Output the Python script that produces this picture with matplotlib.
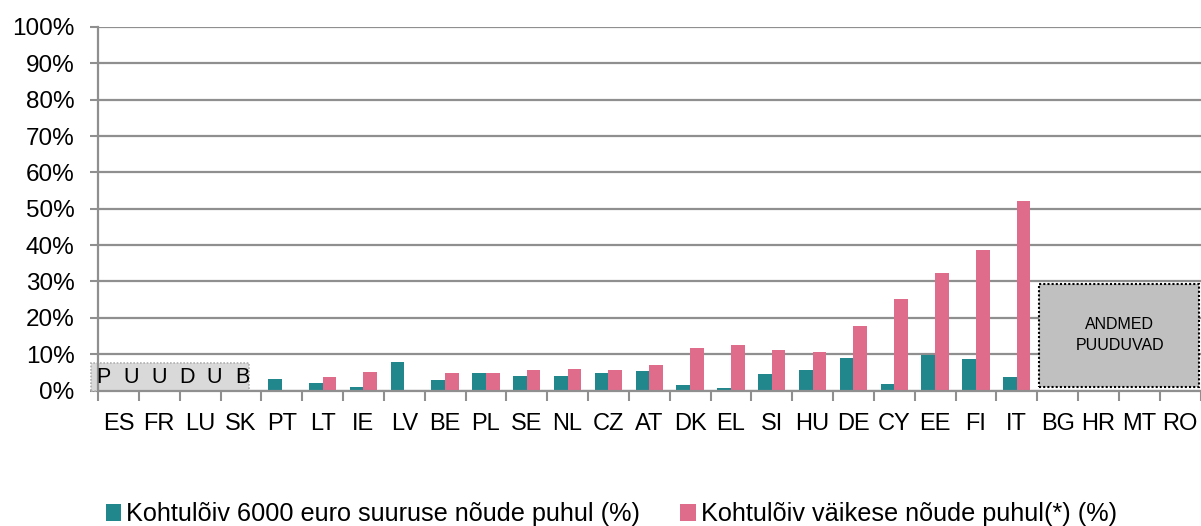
import numpy as np
import matplotlib.pyplot as plt
from matplotlib.patches import Rectangle

plt.rcParams['font.family'] = ['Liberation Sans', 'DejaVu Sans']

countries = ['ES', 'FR', 'LU', 'SK', 'PT', 'LT', 'IE', 'LV', 'BE', 'PL', 'SE', 'NL', 'CZ',
             'AT', 'DK', 'EL', 'SI', 'HU', 'DE', 'CY', 'EE', 'FI', 'IT', 'BG', 'HR', 'MT', 'RO']
# None = no data
claim_6000 = [None, None, None, None, 3.1, 2.1, 0.9, 7.9, 3.0, 4.8, 3.9, 3.9, 4.8,
              5.4, 1.4, 0.8, 4.5, 5.7, 8.9, 1.8, 9.8, 8.6, 3.7, None, None, None, None]
small_claim = [None, None, None, None, 0.0, 3.7, 5.0, 0.0, 4.9, 4.8, 5.6, 5.8, 5.6,
               7.0, 11.7, 12.6, 11.1, 10.6, 17.8, 25.3, 32.3, 38.6, 52.2, None, None, None, None]
label_6000 = 'Kohtulõiv 6000 euro suuruse nõude puhul (%)'
label_small = 'Kohtulõiv väikese nõude puhul(*) (%)'
no_data_short = 'PUUDUB'
no_data_long = 'ANDMED\nPUUDUVAD'

teal = '#21878c'
pink = '#e06c8c'
grid_c = '#8f8f8f'

n = len(countries)
fig = plt.figure(figsize=(12.01, 5.26), dpi=100)
ax = fig.add_axes([0.0816, 0.2576, 0.918, 0.6911])

x = np.arange(n) + 0.5
w = 0.335
v1 = np.array([np.nan if v is None else v for v in claim_6000])
v2 = np.array([np.nan if v is None else v for v in small_claim])
ax.bar(x - w / 2, v1, w, color=teal, label=label_6000, zorder=3)
ax.bar(x + w / 2, v2, w, color=pink, label=label_small, zorder=3)

ax.set_xlim(0, n)
ax.set_ylim(0, 100)
ax.set_yticks(np.arange(0, 101, 10))
ax.set_yticklabels([f'{t}%' for t in range(0, 101, 10)], fontsize=17.5)
ax.yaxis.grid(True, color=grid_c, linewidth=1.6, zorder=0)
ax.tick_params(axis='y', length=6, width=1.5, color=grid_c, pad=11)

ax.set_xticks(np.arange(0, n + 1))
ax.set_xticklabels([])
ax.set_xticks(x, minor=True)
ax.set_xticklabels(countries, minor=True, fontsize=17)
ax.tick_params(axis='x', which='major', length=7, width=1.5, color=grid_c, direction='out')
ax.tick_params(axis='x', which='minor', length=0, pad=16)

for s in ['top', 'right']:
    ax.spines[s].set_visible(False)
for s in ['left', 'bottom']:
    ax.spines[s].set_color(grid_c)
    ax.spines[s].set_linewidth(1.6)
ax.spines['bottom'].set_zorder(4)

# missing data boxes
ax.add_patch(Rectangle((-0.16, 0), 3.87, 7.7, facecolor='#d9d9d9', edgecolor='#b0b0b0',
                       linestyle=(0, (1, 1)), linewidth=1.2, zorder=2, clip_on=False))
for i, ch in enumerate(no_data_short):
    ax.text(0.13 + i * 0.68, 3.6, ch, ha='center', va='center', fontsize=15.5, zorder=5)
ax.add_patch(Rectangle((23.04, 1.1), 3.92, 28.2, facecolor='#c0c0c0', edgecolor='black',
                       linestyle=(0, (1, 1)), linewidth=1.5, zorder=2, clip_on=False))
ax.text(25.02, 15.3, no_data_long, ha='center', va='center', fontsize=11.5,
        linespacing=1.45, zorder=5)

fig.legend(*ax.get_legend_handles_labels(), loc='center', bbox_to_anchor=(0.509, 0.022),
           ncol=2, frameon=False, fontsize=18.2, handlelength=0.6, handleheight=0.6,
           handletextpad=0.2, columnspacing=1.6, borderpad=0)

fig.savefig('out.png', dpi=100)
